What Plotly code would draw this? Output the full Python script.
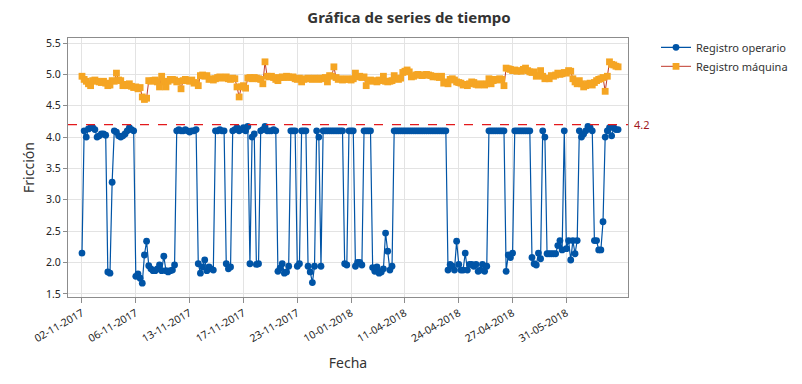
import plotly.graph_objects as go

# ---------------- data ----------------
registro_operario = [
    2.15,
    4.1, 4.0, 4.13, 4.15, 4.15, 4.12, 4.0, 4.02, 4.05, 4.05, 4.03,
    1.85, 1.83, 3.28,
    4.1, 4.08, 4.02, 4.0, 4.02, 4.05, 4.1, 4.15, 4.12, 4.1,
    1.78, 1.82, 1.75, 1.67, 2.12, 2.34, 1.95, 1.9, 1.87, 1.87, 1.9, 1.96, 1.87, 2.1, 1.87, 1.85, 1.87, 1.88, 1.96,
    4.1, 4.12, 4.1, 4.1, 4.12, 4.1, 4.08, 4.1, 4.1, 4.12,
    1.98, 1.83, 1.93, 2.04, 1.87, 1.93, 1.9, 1.88,
    4.1, 4.1, 4.12, 4.1, 4.1,
    1.98, 1.9, 1.93,
    4.1, 4.12, 4.15, 4.1, 4.12, 4.15, 4.1, 4.17,
    1.98, 4.0, 4.05, 1.97, 1.98,
    4.1, 4.12, 4.17, 4.1, 4.1, 4.1, 4.12, 4.1,
    1.86, 1.91, 1.98, 1.83, 1.85, 1.94,
    4.1, 4.1, 4.1,
    1.94, 1.98,
    4.1, 4.1, 4.1,
    1.94, 1.85, 1.68, 1.94,
    4.1, 4.0,
    1.94,
    4.1, 4.1, 4.1, 4.1, 4.1, 4.1, 4.1, 4.1, 4.1, 4.1,
    1.98, 1.96,
    4.1, 4.1, 4.1,
    1.94, 2.0, 2.0, 1.96,
    4.1, 4.1, 4.1, 4.1,
    1.92, 1.86, 1.93, 1.83, 1.85, 1.9, 2.47, 2.18, 1.88, 1.94,
    4.1, 4.1, 4.1, 4.1, 4.1, 4.1, 4.1, 4.1, 4.1, 4.1, 4.1, 4.1, 4.1,
    4.1, 4.1, 4.1, 4.1, 4.1, 4.1, 4.1, 4.1, 4.1, 4.1, 4.1, 4.1,
    1.88, 1.97, 1.94, 1.88, 2.34, 1.97, 1.88, 1.88, 2.15, 1.88, 1.97, 1.97, 1.94, 1.97, 1.86, 1.88, 1.97, 1.86, 1.94,
    4.1, 4.1, 4.1, 4.1, 4.1, 4.1, 4.1, 4.1,
    1.86, 2.12, 2.08, 2.15,
    4.1, 4.1, 4.1, 4.1, 4.1, 4.1, 4.1, 4.1,
    2.08, 1.98, 1.96, 2.15, 2.06,
    4.1, 4.0,
    2.14, 2.14, 2.14, 2.14, 2.14, 2.27, 2.35, 2.2, 4.1, 2.22, 2.35, 2.04, 2.35, 2.14, 2.35,
    4.1, 4.0, 4.05, 4.1, 4.17, 4.15, 4.1,
    2.35, 2.35, 2.2, 2.2, 2.65,
    4.0, 4.1, 4.15, 4.02, 4.15, 4.12, 4.12,
]

registro_maquina = [
    4.97, 4.92, 4.89, 4.85, 4.82, 4.9, 4.91, 4.89, 4.88, 4.87,
    4.89, 4.86, 4.82, 4.83, 4.9, 4.89, 5.02, 4.91, 4.9, 4.82,
    4.84, 4.82, 4.85, 4.81, 4.79, 4.8, 4.77, 4.79, 4.64, 4.6,
    4.62, 4.9, 4.89, 4.9, 4.91, 4.88, 4.8, 4.97, 4.88, 4.8,
    4.89, 4.92, 4.92, 4.91, 4.88, 4.89, 4.77, 4.9, 4.92, 4.9,
    4.89, 4.91, 4.86, 4.87, 4.82, 4.98, 4.99, 4.97, 4.98, 4.92,
    4.93, 4.91, 4.93, 4.95, 4.96, 4.94, 4.95, 4.96, 4.93, 4.92,
    4.94, 4.93, 4.8, 4.64, 4.8, 4.82, 4.78, 4.94, 4.95, 4.93,
    4.95, 4.94, 4.93, 4.92, 4.85, 5.2, 4.97, 4.96, 4.97, 4.95,
    4.92, 4.9, 4.95, 4.96, 4.95, 4.97, 4.96, 4.95, 4.96, 4.93,
    4.92, 4.94, 4.88, 4.92, 4.93, 4.94, 4.93, 4.92, 4.94, 4.93,
    4.92, 4.94, 4.93, 4.95, 4.88, 4.98, 4.97, 5.12, 4.95, 4.92,
    4.93, 4.91, 4.92, 4.93, 4.92, 4.91, 4.93, 5.02, 4.96, 4.97,
    4.95, 4.96, 4.82, 4.9, 4.91, 4.89, 4.9, 4.88, 4.91, 4.9,
    4.97, 4.89, 4.88, 4.89, 4.9, 4.98, 4.93, 4.92, 4.94, 5.03,
    5.05, 5.07, 5.04, 4.96, 4.97, 4.99, 5.0, 4.99, 4.98, 4.99,
    5.0, 4.99, 4.98, 4.96, 4.97, 4.96, 4.95, 4.97, 4.86, 4.88,
    4.85, 4.92, 4.93, 4.91, 4.88, 4.87, 4.86, 4.83, 4.84, 4.82,
    4.85, 4.88, 4.87, 4.84, 4.83, 4.85, 4.84, 4.83, 4.85, 4.93,
    4.85, 4.9, 4.92, 4.91, 4.93, 4.92, 4.82, 5.1, 5.09, 5.08,
    5.06, 5.07, 5.05, 5.06, 5.05, 5.08, 5.1, 5.06, 5.04, 5.03,
    5.04, 4.97, 4.98, 5.06, 4.97, 4.93, 4.94, 4.93, 4.98, 4.97,
    4.99, 5.02, 5.0, 5.01, 5.03, 5.02, 5.06, 5.05, 4.93, 4.88,
    4.85, 4.9, 4.85, 4.8, 4.82, 4.85, 4.86, 4.83, 4.87, 4.9,
    4.92, 4.93, 4.95, 4.73, 4.97, 5.2, 5.16, 5.15, 5.13, 5.12,
]

tick_positions = [1, 26, 51, 76, 101, 126, 151, 176, 201, 226]
tick_labels = ["02-11-2017", "06-11-2017", "13-11-2017", "17-11-2017", "23-11-2017",
               "10-01-2018", "11-04-2018", "24-04-2018", "27-04-2018", "31-05-2018"]
y_ticks = [1.5, 2.0, 2.5, 3.0, 3.5, 4.0, 4.5, 5.0, 5.5]
reference_value = 4.2

n = min(len(registro_operario), len(registro_maquina))
idx = list(range(1, n + 1))

FONT = "Noto Sans"
BLUE = "#0054A6"
ORANGE = "#F5A523"
RED_LINE = "#C0392B"

fig = go.Figure()
fig.add_trace(go.Scatter(
    x=idx, y=registro_operario[:n], mode="lines+markers", name="Registro operario",
    line=dict(color=BLUE, width=1.2),
    marker=dict(symbol="circle", size=6.8, color=BLUE),
))
fig.add_trace(go.Scatter(
    x=idx, y=registro_maquina[:n], mode="lines+markers", name="Registro máquina",
    line=dict(color=RED_LINE, width=1),
    marker=dict(symbol="square", size=6.8, color=ORANGE),
))

fig.add_shape(type="line", xref="paper", x0=0, x1=1, yref="y",
              y0=reference_value, y1=reference_value,
              line=dict(color="#E3191C", width=1.3, dash="dash"), layer="above")
fig.add_annotation(xref="paper", x=1.0, xanchor="left", xshift=4,
                   yref="y", y=reference_value, text=str(reference_value),
                   showarrow=False, font=dict(family=FONT, size=11, color="#A0191C"))

fig.update_layout(
    width=802, height=384,
    margin=dict(l=60, r=182, t=30, b=95),
    paper_bgcolor="white", plot_bgcolor="white",
    font=dict(family=FONT, color="#333333"),
    title=dict(text="<b>Gráfica de series de tiempo</b>", x=0.5, xanchor="center",
               y=0.975, yanchor="middle", font=dict(family=FONT, size=15, color="#333333")),
    legend=dict(x=1.05, xanchor="left", y=1.02, yanchor="top",
                font=dict(family=FONT, size=11, color="#333333"),
                bgcolor="rgba(0,0,0,0)", tracegroupgap=0, itemwidth=30),
    showlegend=True,
)

fig.update_xaxes(
    range=[-5.5, 254.6], tickmode="array", tickvals=tick_positions, ticktext=tick_labels,
    tickangle=-30, tickfont=dict(family=FONT, size=10.5, color="#222222"),
    showgrid=True, gridcolor="#E3E3E3", gridwidth=1,
    showline=True, linecolor="#8C8C8C", linewidth=1.3, mirror=True,
    ticks="outside", ticklen=5, tickcolor="#8C8C8C", zeroline=False,
    title=dict(text="Fecha", font=dict(family=FONT, size=14, color="#333333"), standoff=14),
)
fig.update_yaxes(
    range=[1.45, 5.58], tickmode="array", tickvals=y_ticks,
    ticktext=[f"{v:.1f}" for v in y_ticks],
    tickfont=dict(family=FONT, size=10.5, color="#222222"),
    showgrid=True, gridcolor="#E3E3E3", gridwidth=1,
    showline=True, linecolor="#8C8C8C", linewidth=1.3, mirror=True,
    ticks="outside", ticklen=4, tickcolor="#8C8C8C", zeroline=False,
    title=dict(text="Fricción", font=dict(family=FONT, size=14, color="#333333"), standoff=8),
)

fig.write_html("out.html")
